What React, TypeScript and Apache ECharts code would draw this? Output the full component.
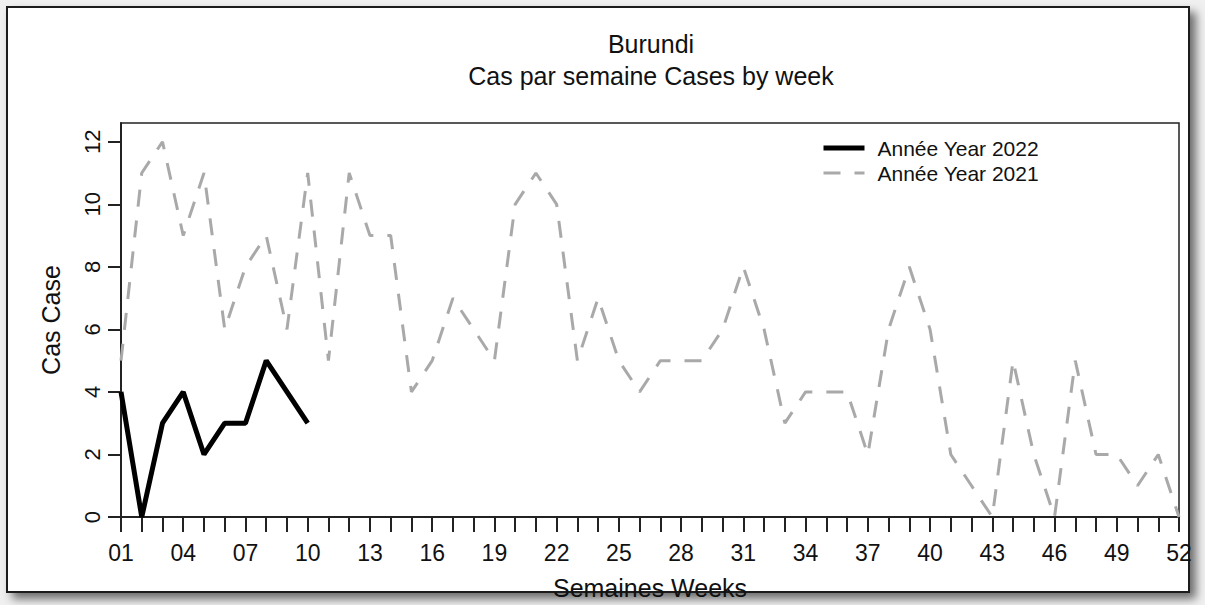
import React, { useEffect, useRef } from "react";
import * as echarts from "echarts";

const weeks = [
  1, 2, 3, 4, 5, 6, 7, 8, 9, 10, 11, 12, 13, 14, 15, 16, 17, 18, 19, 20, 21, 22, 23, 24, 25, 26,
  27, 28, 29, 30, 31, 32, 33, 34, 35, 36, 37, 38, 39, 40, 41, 42, 43, 44, 45, 46, 47, 48, 49, 50, 51, 52,
];
const xLabelWeeks = [1, 4, 7, 10, 13, 16, 19, 22, 25, 28, 31, 34, 37, 40, 43, 46, 49, 52];
const yTicks = [0, 2, 4, 6, 8, 10, 12];

const cases2022 = [4, 0, 3, 4, 2, 3, 3, 5, 4, 3];
const cases2021 = [
  5, 11, 12, 9, 11, 6, 8, 9, 6, 11,
  5, 11, 9, 9, 4, 5, 7, 6, 5, 10,
  11, 10, 5, 7, 5, 4, 5, 5, 5, 6,
  8, 6, 3, 4, 4, 4, 2, 6, 8, 6,
  2, 1, 0, 5, 2, 0, 5, 2, 2, 1,
  2, 0,
];

const name2022 = "Année Year 2022";
const name2021 = "Année Year 2021";

export default function App() {
  const ref = useRef<HTMLDivElement>(null);
  useEffect(() => {
    document.body.style.margin = "0";
    if (!ref.current) return;
    const chart = echarts.init(ref.current, null, { renderer: "svg" });
    const font = "'Liberation Sans', Arial, sans-serif";
    const textColor = "#111";
    chart.setOption({
      animation: false,
      backgroundColor: "#f0f0f0",
      textStyle: { fontFamily: font },
      graphic: [
        {
          type: "rect",
          z: -10,
          shape: { x: 7, y: 7, width: 1182, height: 585 },
          style: {
            fill: "#ffffff",
            stroke: "#1a1a1a",
            lineWidth: 2,
            shadowBlur: 10,
            shadowOffsetX: 6,
            shadowOffsetY: 6,
            shadowColor: "rgba(0,0,0,0.55)",
          },
        },
      ],
      title: [
        {
          text: "Burundi",
          left: 646,
          textAlign: "center",
          top: 26,
          textStyle: { fontSize: 25, fontWeight: "normal", color: textColor, fontFamily: font },
        },
        {
          text: "Cas par semaine Cases by week",
          left: 646,
          textAlign: "center",
          top: 58,
          textStyle: { fontSize: 25, fontWeight: "normal", color: textColor, fontFamily: font },
        },
      ],
      legend: {
        orient: "vertical",
        left: 821,
        top: 137,
        padding: 0,
        itemWidth: 41,
        itemHeight: 14,
        itemGap: 3,
        data: [
          { name: name2022, itemStyle: { opacity: 0 }, lineStyle: { width: 5 } },
          { name: name2021, itemStyle: { opacity: 0 }, lineStyle: { width: 3 } },
        ],
        textStyle: { fontSize: 21, color: textColor, fontFamily: font, lineHeight: 22, padding: [0, 0, 0, 8] },
      },
      grid: {
        left: 121,
        right: 26,
        top: 123,
        bottom: 82,
        show: true,
        borderColor: "#222",
        borderWidth: 1.5,
        backgroundColor: "transparent",
      },
      xAxis: {
        type: "value",
        min: 1,
        max: 52,
        interval: 1,
        name: "Semaines Weeks",
        nameLocation: "middle",
        nameGap: 58,
        nameTextStyle: { fontSize: 25, color: textColor, fontFamily: font },
        axisLine: { show: true, lineStyle: { color: "#222", width: 2 } },
        axisTick: {
          show: true,
          length: 15,
          customValues: weeks,
          lineStyle: { color: "#222", width: 2 },
        },
        axisLabel: {
          customValues: xLabelWeeks,
          margin: 24,
          fontSize: 23,
          color: textColor,
          fontFamily: font,
          formatter: (v: number) => String(v).padStart(2, "0"),
        },
        splitLine: { show: false },
      },
      yAxis: {
        type: "value",
        min: 0,
        max: 12.6,
        interval: 2,
        name: "Cas Case",
        nameLocation: "middle",
        nameGap: 58,
        nameRotate: 90,
        nameTextStyle: { fontSize: 25, color: textColor, fontFamily: font },
        axisLine: { show: true, lineStyle: { color: "#222", width: 2 } },
        axisTick: {
          show: true,
          length: 13,
          customValues: yTicks,
          lineStyle: { color: "#222", width: 2 },
        },
        axisLabel: {
          customValues: yTicks,
          rotate: 90,
          margin: 18,
          fontSize: 22,
          color: textColor,
          fontFamily: font,
        },
        splitLine: { show: false },
      },
      series: [
        {
          name: name2022,
          type: "line",
          z: 4,
          symbol: "none",
          data: cases2022.map((v, i) => [weeks[i], v]),
          lineStyle: { color: "#000", width: 5 },
          itemStyle: { color: "#000" },
        },
        {
          name: name2021,
          type: "line",
          z: 3,
          symbol: "none",
          data: cases2021.map((v, i) => [weeks[i], v]),
          lineStyle: { color: "#a9a9a9", width: 3, type: [17, 14] },
          itemStyle: { color: "#a9a9a9" },
        },
      ],
    });
    return () => chart.dispose();
  }, []);
  return <div ref={ref} style={{ width: 1205, height: 605 }} />;
}
